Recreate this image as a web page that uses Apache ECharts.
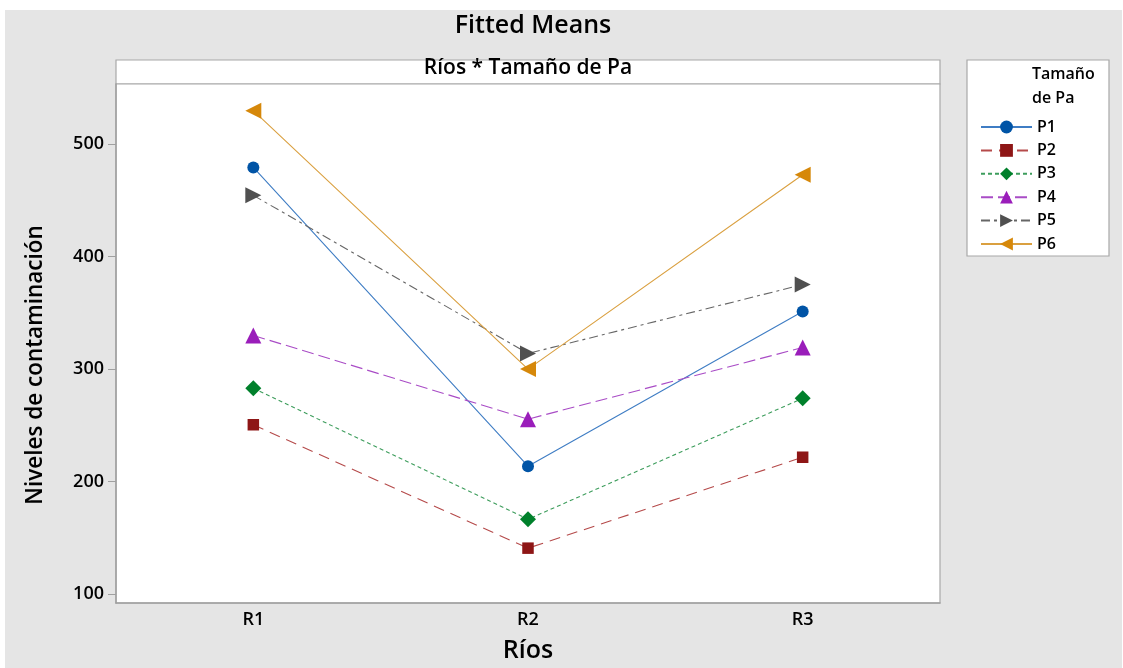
<!DOCTYPE html>
<html>
<head>
<meta charset="utf-8">
<script src="https://cdn.jsdelivr.net/npm/echarts@6/dist/echarts.min.js"></script>
<style>
html,body{margin:0;padding:0;background:#fff;}
#c{width:1123px;height:668px;}
</style>
</head>
<body>
<div id="c"></div>
<script>
var categories = ['R1', 'R2', 'R3'];
var seriesNames = ['P1', 'P2', 'P3', 'P4', 'P5', 'P6'];
var p1 = [479.5, 213.6, 351.3];
var p2 = [250.5, 140.7, 221.6];
var p3 = [283.0, 166.4, 274.0];
var p4 = [330.0, 255.5, 319.2];
var p5 = [454.6, 313.9, 375.2];
var p6 = [530.0, 300.0, 472.9];
var yTicks = [100, 200, 300, 400, 500];

var FONT = 'Open Sans';
var styles = [
  {mc:'#0054A6', lc:'#3f7dc4', sym:'circle', size:12, rot:0, type:'solid'},
  {mc:'#8E1616', lc:'#b54a4a', sym:'rect', size:11.5, rot:0, type:[11,7]},
  {mc:'#00802B', lc:'#3d9d5c', sym:'diamond', size:16, rot:0, type:[4,3]},
  {mc:'#9A1DBA', lc:'#a94cc6', sym:'triangle', size:16, rot:0, type:[12,5]},
  {mc:'#505050', lc:'#666666', sym:'triangle', size:16, rot:-90, type:[9,4,3,4]},
  {mc:'#D6880A', lc:'#daa040', sym:'triangle', size:16, rot:90, type:'solid'}
];
var values = [p1, p2, p3, p4, p5, p6];

var series = seriesNames.map(function(n, i){
  var s = styles[i];
  return {
    name: n, type: 'line', data: values[i],
    symbol: s.sym, symbolSize: s.size, symbolRotate: s.rot,
    itemStyle: {color: s.mc},
    lineStyle: {color: s.lc, width: 1.1, type: s.type},
    emphasis: {disabled: true},
    z: 10 + i
  };
});

var chart = echarts.init(document.getElementById('c'), null, {renderer: 'canvas'});
chart.setOption({
  animation: false,
  backgroundColor: '#ffffff',
  graphic: [
    {type:'rect', z:-10, silent:true, shape:{x:5, y:10, width:1117, height:658}, style:{fill:'#e5e5e5'}},
    {type:'rect', z:-5, silent:true, shape:{x:116, y:60, width:824, height:24}, style:{fill:'#ffffff', stroke:'#a8a8a8', lineWidth:1.2}},
    {type:'text', z:5, silent:true, x:528, y:68.5, style:{text:'Ríos * Tamaño de Pa', fill:'#000', font:'600 21px "'+FONT+'"', align:'center', verticalAlign:'middle'}},
    {type:'rect', z:-5, silent:true, shape:{x:967, y:60, width:142, height:196}, style:{fill:'#ffffff', stroke:'#a8a8a8', lineWidth:1.2}},
    {type:'text', z:5, silent:true, x:1032, y:74.5, style:{text:'Tamaño', fill:'#000', font:'600 16px "'+FONT+'"', align:'left', verticalAlign:'middle'}},
    {type:'text', z:5, silent:true, x:1032, y:98.5, style:{text:'de Pa', fill:'#000', font:'600 16px "'+FONT+'"', align:'left', verticalAlign:'middle'}},
    {type:'text', z:5, silent:true, x:36, y:365, rotation: Math.PI/2, style:{text:'Niveles de contaminación', fill:'#000', font:'600 22.5px "'+FONT+'"', align:'center', verticalAlign:'middle'}}
  ],
  title: {
    text: 'Fitted Means', left: 528, top: 8, textAlign: 'center',
    textStyle: {fontFamily: FONT, fontWeight: 600, fontSize: 25, color: '#000'}
  },
  legend: {
    orient: 'vertical', left: 975, top: 114,
    itemWidth: 51, itemHeight: 16, itemGap: 7.4,
    selectedMode: false,
    textStyle: {fontFamily: FONT, fontWeight: 600, fontSize: 16, color: '#000'},
    data: seriesNames
  },
  grid: {
    left: 116, top: 84, right: 183, bottom: 62.5,
    show: true, backgroundColor: '#ffffff', borderColor: '#a8a8a8', borderWidth: 1.2,
    containLabel: false
  },
  xAxis: {
    type: 'category', data: categories, boundaryGap: true,
    name: 'Ríos', nameLocation: 'middle', nameGap: 35,
    nameTextStyle: {fontFamily: FONT, fontWeight: 600, fontSize: 25, color: '#000'},
    axisLine: {lineStyle: {color: '#a0a0a0', width: 1.5}},
    axisTick: {alignWithLabel: true, length: 6, lineStyle: {color: '#a0a0a0'}},
    axisLabel: {fontFamily: FONT, fontWeight: 600, fontSize: 18, color: '#000', margin: 8},
    splitLine: {show: false}
  },
  yAxis: {
    type: 'value', min: 91.9, max: 553.7,
    axisLine: {show: true, lineStyle: {color: '#a0a0a0', width: 1.5}},
    axisTick: {show: true, length: 8, customValues: yTicks, lineStyle: {color: '#a0a0a0'}},
    axisLabel: {fontFamily: FONT, fontWeight: 600, fontSize: 18, color: '#000', margin: 12, customValues: yTicks},
    splitLine: {show: false}
  },
  series: series
});
</script>
</body>
</html>
